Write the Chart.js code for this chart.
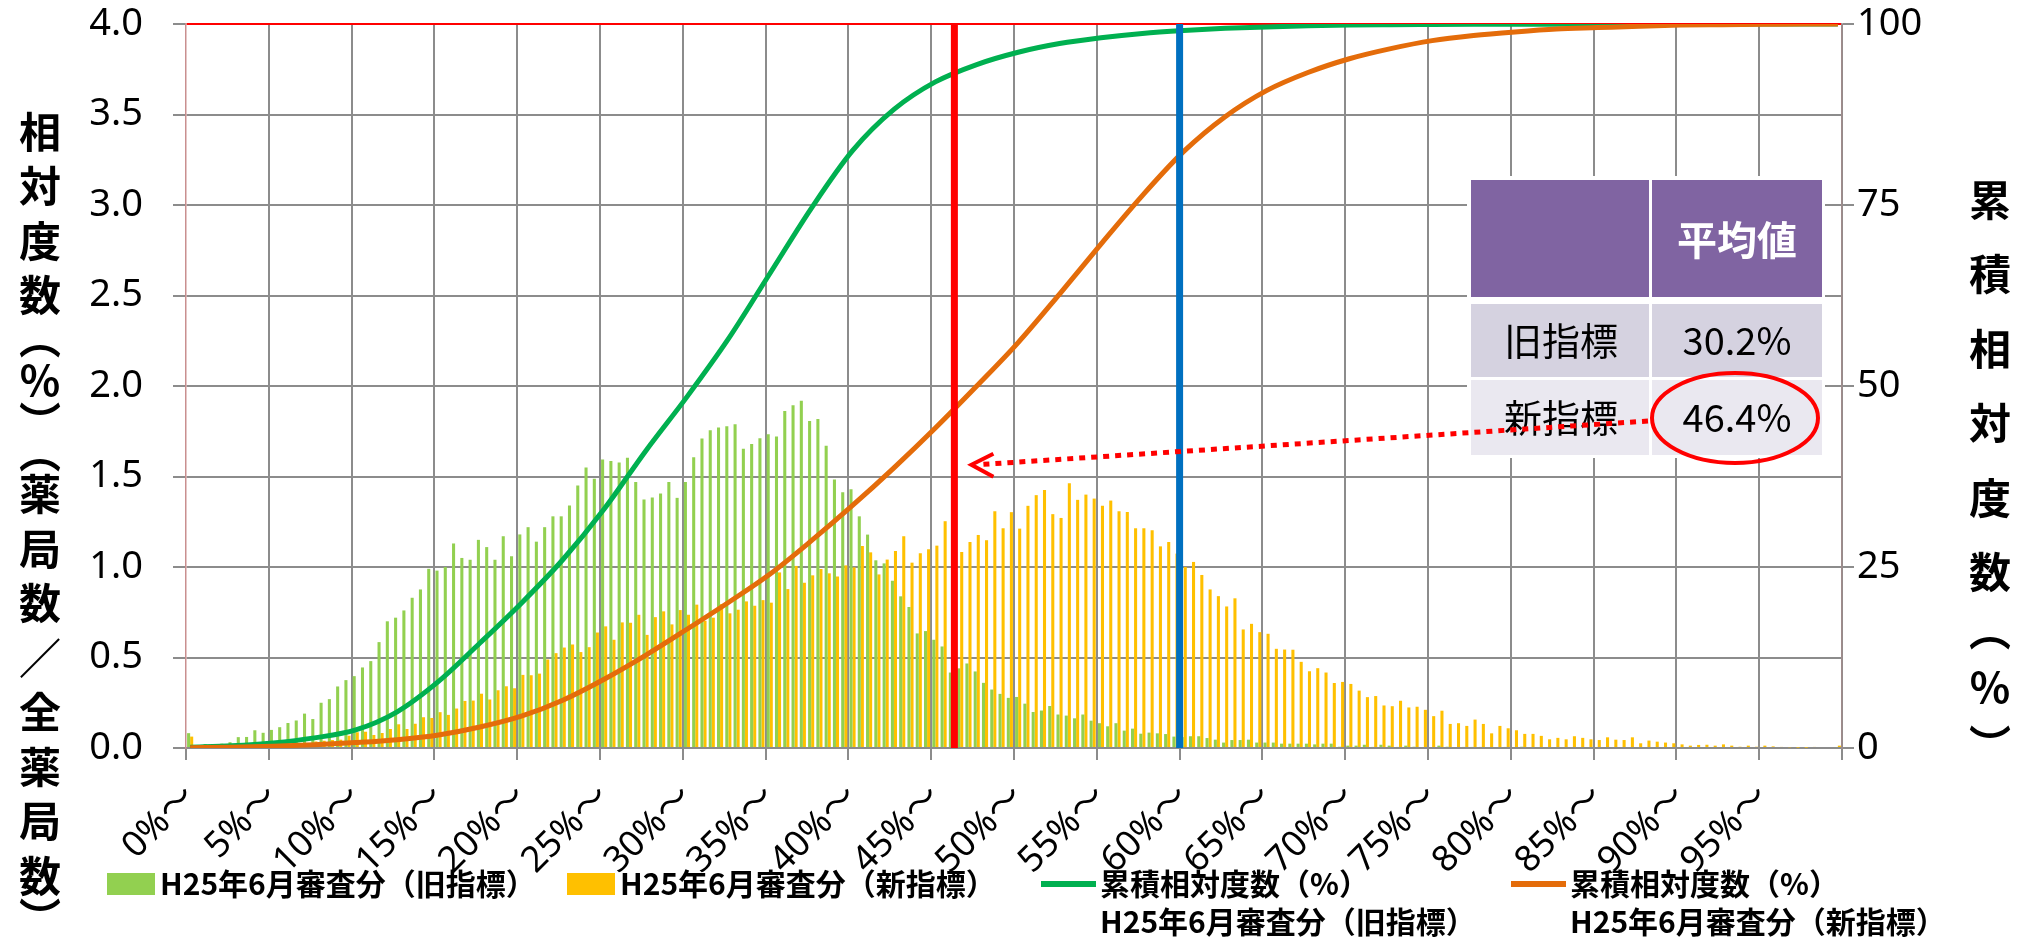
<!DOCTYPE html>
<html>
<head>
<meta charset="utf-8">
<script src="https://cdn.jsdelivr.net/npm/chart.js@4.4.1/dist/chart.umd.min.js"></script>
<style>
  html, body { margin: 0; padding: 0; background: #fff; }
  #wrap { width: 2020px; height: 937px; }
</style>
</head>
<body>
<div id="wrap"><canvas id="chart" width="2020" height="937"></canvas></div>
<script>
// --- Data ---
// 0.5% wide bins, labelled by their lower edge
const binLabels = [];
for (let i = 0; i < 200; i++) binLabels.push((i * 0.5) + '%～');

// relative frequency (%) per bin, H25/6 old index
const oldShare = [
  0.082, 0.010, 0.022, 0.020, 0.024, 0.032, 0.060, 0.061, 0.098, 0.084,
  0.100, 0.115, 0.138, 0.152, 0.190, 0.160, 0.250, 0.270, 0.340, 0.375,
  0.397, 0.445, 0.480, 0.585, 0.700, 0.720, 0.760, 0.830, 0.876, 0.990,
  0.980, 1.000, 1.130, 1.050, 1.040, 1.150, 1.110, 1.040, 1.170, 1.060,
  1.180, 1.220, 1.140, 1.220, 1.280, 1.280, 1.340, 1.450, 1.550, 1.487,
  1.594, 1.585, 1.577, 1.603, 1.469, 1.373, 1.384, 1.406, 1.469, 1.382,
  1.470, 1.607, 1.710, 1.755, 1.771, 1.777, 1.788, 1.653, 1.679, 1.712,
  1.734, 1.721, 1.862, 1.893, 1.919, 1.806, 1.817, 1.670, 1.483, 1.413,
  1.430, 1.280, 1.179, 1.037, 1.020, 0.924, 0.838, 0.779, 0.633, 0.646,
  0.598, 0.561, 0.417, 0.440, 0.467, 0.423, 0.360, 0.323, 0.299, 0.277,
  0.282, 0.245, 0.199, 0.207, 0.232, 0.185, 0.179, 0.164, 0.185, 0.151,
  0.137, 0.120, 0.137, 0.096, 0.107, 0.079, 0.085, 0.081, 0.077, 0.063,
  0.060, 0.065, 0.065, 0.055, 0.046, 0.030, 0.044, 0.044, 0.046, 0.030,
  0.030, 0.030, 0.024, 0.024, 0.024, 0.024, 0.020, 0.024, 0.024, 0.007,
  0.013, 0.013, 0.018, 0.006, 0.018, 0.013, 0.006, 0.013, 0.007, 0,
  0, 0.013, 0.007, 0, 0.006, 0.006, 0.006, 0, 0, 0.006,
  0, 0.007, 0, 0, 0, 0, 0, 0, 0, 0,
  0, 0, 0, 0, 0, 0, 0, 0, 0, 0,
  0, 0, 0, 0, 0, 0, 0, 0, 0, 0,
  0, 0, 0, 0, 0, 0, 0, 0, 0, 0.005
];

// relative frequency (%) per bin, H25/6 new index
const newShare = [
  0.063, 0.004, 0.004, 0.005, 0.006, 0.007, 0.008, 0.010, 0.012, 0.013,
  0.015, 0.018, 0.020, 0.024, 0.028, 0.036, 0.040, 0.044, 0.046, 0.068,
  0.087, 0.090, 0.072, 0.083, 0.105, 0.131, 0.105, 0.134, 0.170, 0.166,
  0.198, 0.183, 0.218, 0.260, 0.262, 0.300, 0.268, 0.319, 0.341, 0.330,
  0.404, 0.402, 0.411, 0.489, 0.524, 0.555, 0.572, 0.530, 0.557, 0.638,
  0.672, 0.598, 0.694, 0.692, 0.736, 0.625, 0.723, 0.755, 0.683, 0.762,
  0.736, 0.792, 0.703, 0.720, 0.795, 0.744, 0.764, 0.810, 0.786, 0.817,
  0.803, 0.970, 0.878, 1.006, 0.913, 0.954, 0.989, 0.965, 0.948, 1.009,
  0.998, 1.116, 1.081, 0.959, 1.041, 1.089, 1.170, 1.024, 1.076, 1.098,
  1.118, 1.253, 1.083, 1.083, 1.138, 1.177, 1.148, 1.308, 1.214, 1.303,
  1.212, 1.338, 1.397, 1.426, 1.292, 1.271, 1.463, 1.371, 1.400, 1.378,
  1.338, 1.367, 1.308, 1.304, 1.214, 1.214, 1.203, 1.114, 1.138, 1.074,
  1.000, 1.028, 0.956, 0.876, 0.839, 0.782, 0.827, 0.655, 0.686, 0.640,
  0.631, 0.548, 0.544, 0.543, 0.476, 0.424, 0.441, 0.417, 0.359, 0.365,
  0.354, 0.317, 0.281, 0.287, 0.235, 0.231, 0.261, 0.224, 0.228, 0.211,
  0.176, 0.206, 0.133, 0.137, 0.122, 0.157, 0.133, 0.081, 0.122, 0.109,
  0.098, 0.078, 0.078, 0.067, 0.048, 0.056, 0.048, 0.065, 0.056, 0.048,
  0.044, 0.059, 0.046, 0.044, 0.059, 0.026, 0.041, 0.035, 0.030, 0.026,
  0.020, 0.013, 0.017, 0.018, 0.013, 0.020, 0.013, 0.007, 0.013, 0.007,
  0.013, 0.009, 0.006, 0.004, 0.002, 0.002, 0.006, 0, 0, 0.013
];

// cumulative curves, read every 2.5%
const cumAt = [0, 2.5, 5, 7.5, 10, 12.5, 15, 17.5, 20, 22.5, 25, 27.5, 30, 32.5, 35, 37.5, 40, 42.5, 45, 47.5,
  50, 52.5, 55, 57.5, 60, 62.5, 65, 67.5, 70, 72.5, 75, 77.5, 80, 82.5, 85, 87.5, 90, 92.5, 95, 97.5, 100];
const cumOld = [0.1, 0.3, 0.7, 1.4, 2.5, 5.0, 9.2, 14.5, 20.0, 26.0, 33.0, 41.0, 48.5, 56.5, 65.5, 74.5, 82.5, 88.2, 92.0, 94.4,
  96.1, 97.3, 98.1, 98.7, 99.1, 99.4, 99.6, 99.75, 99.85, 99.9, 99.93, 99.95, 99.97, 99.98, 99.99, 100, 100, 100, 100, 100, 100];
const cumNew = [0.05, 0.12, 0.25, 0.45, 0.75, 1.15, 1.8, 2.9, 4.4, 6.6, 9.5, 12.8, 16.4, 20.1, 24.0, 28.6, 33.5, 38.7, 44.2, 50.0,
  56.0, 62.7, 69.6, 76.3, 82.4, 87.2, 90.8, 93.3, 95.2, 96.6, 97.7, 98.4, 98.9, 99.3, 99.5, 99.7, 99.85, 99.9, 99.95, 100, 100];

const meanRows = [['旧指標', '30.2%'], ['新指標', '46.4%']];
const meanNew = 46.4;   // red line
const markPct = 60;     // blue line

const legendNames = ['H25年6月審査分（旧指標）', 'H25年6月審査分（新指標）', '累積相対度数（%）'];
const leftTitle = '相対度数（%）（薬局数／全薬局数）';
const rightTitle = '累積相対度数（%）';

const GREEN_BAR = '#92D050', YELLOW_BAR = '#FFC000', GREEN_LINE = '#00B050', ORANGE_LINE = '#E46C0A';
const GRID = '#8c8c8c';
const FONT = '"Noto Sans", "Noto Sans CJK JP", sans-serif';
const CJK = '"Noto Sans CJK JP", sans-serif';

function cumPoints(vals) {
  return cumAt.map((p, k) => ({ x: binLabels[Math.min(199, Math.round(p * 2))], y: vals[k] }));
}

// --- helpers ---
function pctToX(chart, p) {
  const a = chart.chartArea;
  return a.left + p / 100 * (a.right - a.left);
}

// stacked upright characters; first glyph centred at y0, last at y1
function drawVertical(ctx, text, cx, y0, y1) {
  const chars = Array.from(text).map(c => c === '（' ? '︵' : c === '）' ? '︶' : c);
  const w = chars.map(c => (c === '︵' || c === '︶') ? 0.55 : 1);
  const total = w.reduce((s, v) => s + v, 0) - (w[0] + w[w.length - 1]) / 2;
  const pitch = (y1 - y0) / total;
  let acc = -w[0] / 2;
  ctx.textAlign = 'center';
  ctx.textBaseline = 'middle';
  chars.forEach((c, i) => {
    ctx.fillText(c, cx, y0 + (acc + w[i] / 2) * pitch);
    acc += w[i];
  });
}

const overlay = {
  id: 'overlay',
  afterDatasetsDraw(chart) {
    const ctx = chart.ctx;
    const a = chart.chartArea;
    const ys = chart.scales.y;
    ctx.save();
    // vertical markers
    ctx.lineWidth = 7;
    ctx.strokeStyle = '#FF0000';
    let x = pctToX(chart, meanNew);
    ctx.beginPath(); ctx.moveTo(x, a.top); ctx.lineTo(x, a.bottom); ctx.stroke();
    ctx.strokeStyle = '#0070C0';
    x = pctToX(chart, markPct);
    ctx.beginPath(); ctx.moveTo(x, a.top); ctx.lineTo(x, a.bottom); ctx.stroke();

    // table of means
    ctx.fillStyle = '#fff';
    ctx.fillRect(1467, 176, 358, 282);
    const cols = [[1471, 178], [1652, 170]];
    const rows = [[180, 117, '#8064A2'], [304, 73, '#D5D2E0'], [380, 75, '#EAE8F0']];
    rows.forEach(r => cols.forEach(c => { ctx.fillStyle = r[2]; ctx.fillRect(c[0], r[0], c[1], r[1]); }));
    ctx.textAlign = 'center';
    ctx.textBaseline = 'middle';
    ctx.fillStyle = '#fff';
    ctx.font = 'bold 40px ' + CJK;
    ctx.fillText('平均値', 1737, 240);
    ctx.fillStyle = '#000';
    ctx.font = '38px ' + CJK;
    meanRows.forEach((r, i) => {
      const cy = rows[i + 1][0] + rows[i + 1][1] / 2;
      ctx.fillText(r[0], 1561, cy);
      ctx.fillText(r[1], 1737, cy);
    });

    // dotted arrow to the red line
    const tipX = pctToX(chart, meanNew) + 17;
    const tipY = ys.getPixelForValue(1.565);
    ctx.strokeStyle = '#FF0000';
    ctx.lineWidth = 5;
    ctx.setLineDash([6, 6]);
    ctx.beginPath(); ctx.moveTo(1648, 421); ctx.lineTo(tipX + 6, tipY); ctx.stroke();
    ctx.setLineDash([]);
    ctx.lineWidth = 4;
    ctx.beginPath();
    ctx.moveTo(tipX + 22, tipY - 11); ctx.lineTo(tipX, tipY); ctx.lineTo(tipX + 22, tipY + 12);
    ctx.stroke();

    // circle around the new mean
    ctx.beginPath();
    ctx.ellipse(1735, 418, 83, 45, 0, 0, Math.PI * 2);
    ctx.stroke();
    ctx.restore();
  },
  afterDraw(chart) {
    const ctx = chart.ctx;
    ctx.save();
    ctx.fillStyle = '#000';
    ctx.font = 'bold 42px ' + CJK;
    drawVertical(ctx, leftTitle, 40, 132, 918);
    drawVertical(ctx, rightTitle, 1990, 200, 745);

    // legend
    ctx.font = 'bold 30px ' + CJK;
    ctx.textAlign = 'left';
    ctx.textBaseline = 'middle';
    const y1 = 884, y2 = 922;
    ctx.fillStyle = GREEN_BAR; ctx.fillRect(107, y1 - 11, 48, 22);
    ctx.fillStyle = YELLOW_BAR; ctx.fillRect(567, y1 - 11, 48, 22);
    ctx.fillStyle = '#000';
    ctx.fillText(legendNames[0], 160, y1);
    ctx.fillText(legendNames[1], 620, y1);
    ctx.lineWidth = 6;
    ctx.strokeStyle = GREEN_LINE;
    ctx.beginPath(); ctx.moveTo(1041, y1); ctx.lineTo(1096, y1); ctx.stroke();
    ctx.strokeStyle = ORANGE_LINE;
    ctx.beginPath(); ctx.moveTo(1511, y1); ctx.lineTo(1566, y1); ctx.stroke();
    ctx.fillText(legendNames[2], 1100, y1);
    ctx.fillText(legendNames[0], 1100, y2);
    ctx.fillText(legendNames[2], 1570, y1);
    ctx.fillText(legendNames[1], 1570, y2);
    ctx.restore();
  }
};

// drop the label overhang padding so the plot keeps its place
function noVPad(s) { s.paddingTop = 0; s.paddingBottom = 0; }

// --- Chart ---
const chart = new Chart(document.getElementById('chart').getContext('2d'), {
  type: 'bar',
  data: {
    labels: binLabels,
    datasets: [
      { label: legendNames[0], data: oldShare, backgroundColor: GREEN_BAR, yAxisID: 'y', order: 3,
        categoryPercentage: 0.74, barPercentage: 1.0 },
      { label: legendNames[1], data: newShare, backgroundColor: YELLOW_BAR, yAxisID: 'y', order: 3,
        categoryPercentage: 0.74, barPercentage: 1.0 },
      { type: 'line', label: legendNames[2], data: cumPoints(cumOld), yAxisID: 'y2', order: 2,
        borderColor: GREEN_LINE, borderWidth: 5, pointRadius: 0, cubicInterpolationMode: 'monotone' },
      { type: 'line', label: legendNames[2], data: cumPoints(cumNew), yAxisID: 'y2', order: 1,
        borderColor: ORANGE_LINE, borderWidth: 5, pointRadius: 0, cubicInterpolationMode: 'monotone' }
    ]
  },
  options: {
    responsive: false,
    animation: false,
    devicePixelRatio: 1,
    layout: { padding: { top: 24, left: 0, right: 0, bottom: 0 } },
    plugins: { legend: { display: false }, tooltip: { enabled: false } },
    scales: {
      x: {
        afterFit: s => { s.height = 189; s.paddingLeft = 0; s.paddingRight = 0; },
        grid: {
          offset: true,
          lineWidth: 2,
          tickLength: 12,
          color: c => (c.index === undefined || (c.index % 10 === 0 && c.index > 0)) ? GRID : 'rgba(0,0,0,0)',
          tickColor: c => (c.index === undefined || c.index % 10 === 0) ? GRID : 'rgba(0,0,0,0)'
        },
        border: { color: GRID, width: 2 },
        ticks: {
          autoSkip: false, maxRotation: 45, minRotation: 45, padding: 16,
          color: '#000', font: { family: FONT, size: 36 },
          callback: (v, i) => i % 10 === 0 ? binLabels[i] : ''
        }
      },
      y: {
        position: 'left',
        min: 0, max: 4,
        afterFit: s => { s.width = 186; noVPad(s); },
        grid: {
          lineWidth: 2, tickLength: 13, tickColor: GRID,
          color: c => (c.tick && c.tick.value === 4) ? '#FF0000' : GRID
        },
        border: { color: '#c98f8f', width: 1.5 },
        ticks: { stepSize: 0.5, padding: 30, color: '#000', font: { family: FONT, size: 38 },
          callback: v => v.toFixed(1) }
      },
      y2: {
        position: 'right',
        min: 0, max: 100,
        afterFit: s => { s.width = 178; noVPad(s); },
        grid: { drawOnChartArea: false, lineWidth: 2, tickLength: 12, color: GRID },
        border: { color: '#a08c8c', width: 1.5 },
        ticks: { stepSize: 25, padding: 3, color: '#000', font: { family: FONT, size: 38 } }
      }
    }
  },
  plugins: [overlay]
});
</script>
</body>
</html>
